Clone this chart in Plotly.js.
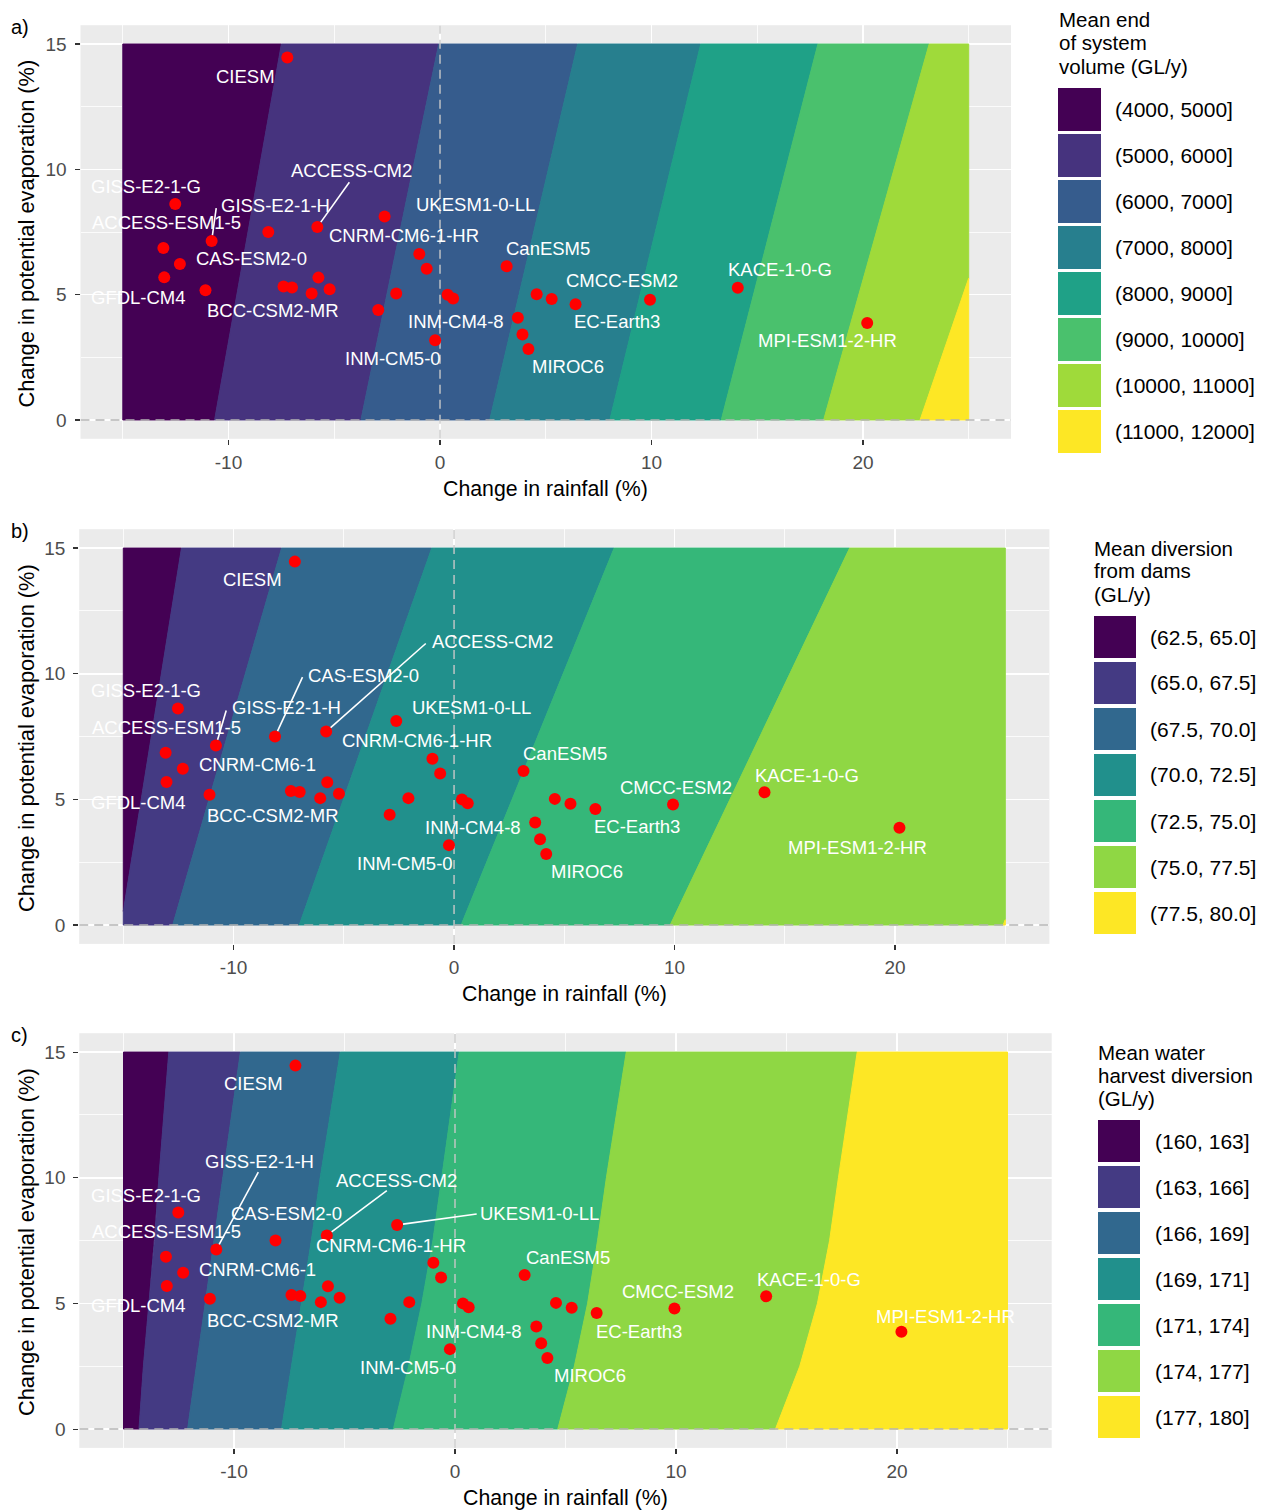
<!DOCTYPE html>
<html><head><meta charset="utf-8">
<script src="https://cdn.plot.ly/plotly-3.0.1.min.js"></script>
<style>body{margin:0;background:#fff}</style>
</head><body>
<div id="chart" style="width:1268px;height:1510px"></div>
<script>
// ---------------- DATA ----------------
const models = ["CIESM","GISS-E2-1-G","GISS-E2-1-H","ACCESS-CM2","CAS-ESM2-0","UKESM1-0-LL",
  "ACCESS-ESM1-5","CNRM-CM6-1","GFDL-CM4","BCC-CSM2-MR","CNRM-CM6-1-HR","INM-CM5-0",
  "CanESM5","EC-Earth3","CMCC-ESM2","KACE-1-0-G","MPI-ESM1-2-HR","INM-CM4-8","MIROC6",
  "","","","","","","","","","","","",""];
const rainfallChange = [-7.22,-12.52,-10.8,-5.8,-8.12,-2.62,
  -13.08,-12.3,-13.04,-11.09,-0.98,-0.23,
  3.15,6.41,9.93,14.08,20.2,3.68,4.18,
  -7.4,-7.0,-5.75,-6.07,-5.22,-2.92,-2.07,-0.63,0.36,0.62,4.57,5.28,3.9];
const evapChange = [14.46,8.62,7.14,7.7,7.5,8.12,
  6.86,6.22,5.69,5.18,6.62,3.18,
  6.13,4.62,4.8,5.28,3.87,4.08,2.83,
  5.33,5.29,5.68,5.05,5.22,4.39,5.05,6.03,5.0,4.85,5.02,4.83,3.41];

// Response-surface band boundaries: x (rainfall %) at given evaporation levels
const levelsA = [0, 15];
const boundsA = [[-10.66,-7.5],[-3.74,-0.06],[2.35,6.51],[8.03,12.33],[13.3,17.87],[18.14,23.13],[22.7,28.8]];
const bandLabelsA = ["(4000, 5000]","(5000, 6000]","(6000, 7000]","(7000, 8000]","(8000, 9000]","(9000, 10000]","(10000, 11000]","(11000, 12000]"];
const legendTitleA = ["Mean end","of system","volume (GL/y)"];

const levelsB = [0, 15];
const boundsB = [[-15.1,-12.36],[-12.76,-7.82],[-7.02,-1.01],[0.32,7.26],[9.8,17.94],[24.9,32.0]];
const bandLabelsB = ["(62.5, 65.0]","(65.0, 67.5]","(67.5, 70.0]","(70.0, 72.5]","(72.5, 75.0]","(75.0, 77.5]","(77.5, 80.0]"];
const legendTitleB = ["Mean diversion","from dams","(GL/y)"];

const levelsC = [0, 2.5, 5, 7.5, 10, 15];
const boundsC = [
  [-14.3,-14.1,-13.85,-13.6,-13.4,-12.95],
  [-12.1,-11.7,-11.3,-10.9,-10.5,-9.71],
  [-7.85,-7.4,-6.95,-6.5,-6.1,-5.19],
  [-2.79,-2.1,-1.5,-1.0,-0.6,0.19],
  [4.65,5.4,6.0,6.45,6.85,7.75],
  [14.5,15.6,16.4,16.95,17.35,18.2]];
const bandLabelsC = ["(160, 163]","(163, 166]","(166, 169]","(169, 171]","(171, 174]","(174, 177]","(177, 180]"];
const legendTitleC = ["Mean water","harvest diversion","(GL/y)"];

const viridis8 = ["#440154","#46337E","#365C8D","#277F8E","#1FA187","#4AC16D","#9FDA3A","#FDE725"];
const viridis7 = ["#440154","#443A83","#31688E","#21908C","#35B779","#8FD744","#FDE725"];

const xTicks = [-10, 0, 10, 20];
const xTickText = ["-10", "0", "10", "20"];
const yTicks = [0, 5, 10, 15];

// ---------------- LAYOUT / STYLE ----------------
const W = 1268, H = 1510;
const FONT = "Liberation Sans, Arial, Helvetica, sans-serif";
const X_DATA = [-15, 25];
const X_RANGE = [-17, 27], Y_RANGE = [-0.75, 15.75];

// label offsets in px from the point: [dx, dy(down +), segStartDx, segStartDy]
const labelPosA = {"CIESM":[-42,19],"GISS-E2-1-G":[-29,-17.5],"ACCESS-ESM1-5":[3,-26],"GFDL-CM4":[-26,20],
 "GISS-E2-1-H":[64,-36,4.6,-33],"ACCESS-CM2":[34,-56,32,-44.7],"CAS-ESM2-0":[-17,26],"UKESM1-0-LL":[91,-12],
 "CNRM-CM6-1-HR":[-15,-18.5],"BCC-CSM2-MR":[68,20],"INM-CM4-8":[-62,4],"INM-CM5-0":[-42,18],
 "CanESM5":[41,-18],"CMCC-ESM2":[-28,-19],"EC-Earth3":[41,17.5],"MIROC6":[40,17.5],
 "KACE-1-0-G":[42,-18],"MPI-ESM1-2-HR":[-40,18]};
const labelPosB = {"CIESM":[-42,18],"GISS-E2-1-G":[-32,-17.5],"ACCESS-ESM1-5":[1,-25.6],"GFDL-CM4":[-28.5,20.6],
 "GISS-E2-1-H":[71,-38.6,10.3,-35.1],"CAS-ESM2-0":[88,-61.5,27.5,-59.5],"ACCESS-CM2":[166,-90,99.6,-88],"UKESM1-0-LL":[75,-13],
 "CNRM-CM6-1-HR":[-15.4,-18],"CNRM-CM6-1":[74.5,-4.7],"BCC-CSM2-MR":[63.5,21],"INM-CM4-8":[-62.5,4.5],
 "INM-CM5-0":[-44,18],"CanESM5":[41.5,-17],"CMCC-ESM2":[3,-17.4],"EC-Earth3":[41.7,18],"MIROC6":[40.8,18],
 "KACE-1-0-G":[42.5,-17.3],"MPI-ESM1-2-HR":[-42.4,19.3]};
const labelPosC = {"CIESM":[-41.6,17.6],"GISS-E2-1-G":[-32.3,-17],"ACCESS-ESM1-5":[0.4,-25.3],"GFDL-CM4":[-28.8,19.7],
 "GISS-E2-1-H":[43.3,-87.7,42,-77.5],"ACCESS-CM2":[69.6,-55.5,60,-44.8],"CAS-ESM2-0":[11,-27],"UKESM1-0-LL":[142,-11.5,79.6,-11],
 "CNRM-CM6-1-HR":[-42.8,-17.2],"CNRM-CM6-1":[74,-3.6],"BCC-CSM2-MR":[63.2,21.3],"INM-CM4-8":[-62,4.6],
 "INM-CM5-0":[-41.8,17.9],"CanESM5":[43,-17.6],"CMCC-ESM2":[3.5,-17.4],"EC-Earth3":[42,18.9],"MIROC6":[42.6,17.5],
 "KACE-1-0-G":[42.7,-17.1],"MPI-ESM1-2-HR":[43.6,-15.7]};

const panels = [
  {xa:"x", ya:"y", levels:levelsA, bounds:boundsA, colors:viridis8, bandLabels:bandLabelsA, title:legendTitleA,
   labels:labelPosA, dom:[80.5,1011,25.2,438.8], tag:"a)", tagY:27,
   leg:{titleX:1057, titleY:[20,43,66], boxX:1058, boxW:43, boxY:88, boxH:43, step:46, labelX:1113}},
  {xa:"x2", ya:"y2", levels:levelsB, bounds:boundsB, colors:viridis7, bandLabels:bandLabelsB, title:legendTitleB,
   labels:labelPosB, dom:[79.2,1049.4,529.2,943.9], tag:"b)", tagY:531,
   leg:{titleX:1092, titleY:[548,571,594], boxX:1094, boxW:42, boxY:616, boxH:42, step:46, labelX:1148}},
  {xa:"x3", ya:"y3", levels:levelsC, bounds:boundsC, colors:viridis7, bandLabels:bandLabelsC, title:legendTitleC,
   labels:labelPosC, dom:[79.3,1051.7,1033.2,1447.9], tag:"c)", tagY:1035,
   leg:{titleX:1096, titleY:[1052,1075,1098], boxX:1098, boxW:42, boxY:1120, boxH:42, step:46, labelX:1153}}
];

// ---------------- helpers ----------------
const px2x = p => p / W;
const py2y = p => 1 - p / H;

function clipHalf(poly, inside, intersect) {
  const out = [];
  for (let i = 0; i < poly.length; i++) {
    const cur = poly[i], prev = poly[(i + poly.length - 1) % poly.length];
    const ci = inside(cur), pi = inside(prev);
    if (ci) { if (!pi) out.push(intersect(prev, cur)); out.push(cur); }
    else if (pi) out.push(intersect(prev, cur));
  }
  return out;
}
function clipX(poly, xmin, xmax) {
  const at = xv => (a, b) => { const t = (xv - a[0]) / (b[0] - a[0]); return [xv, a[1] + t * (b[1] - a[1])]; };
  let p = clipHalf(poly, q => q[0] >= xmin, at(xmin));
  if (p.length) p = clipHalf(p, q => q[0] <= xmax, at(xmax));
  return p;
}

const traces = [], annotations = [], shapes = [];
const layout = {
  width: W, height: H, margin: {l:0, r:0, t:0, b:0}, paper_bgcolor: "#FFFFFF", plot_bgcolor: "#EBEBEB",
  showlegend: false, font: {family: FONT, color: "#000000"}, hovermode: false
};

panels.forEach((P, k) => {
  const sfx = k === 0 ? "" : String(k + 1);
  layout["xaxis" + sfx] = {
    domain: [px2x(P.dom[0]), px2x(P.dom[1])], anchor: P.ya, range: X_RANGE,
    tickmode: "array", tickvals: xTicks, ticktext: xTickText, ticks: "outside", ticklen: 5, tickwidth: 1.1,
    tickcolor: "#333333", tickfont: {size: 19, color: "#4D4D4D", family: FONT}, ticklabelstandoff: 1,
    showgrid: true, gridcolor: "#FFFFFF", gridwidth: 1.6, zeroline: false, showline: false,
    minor: {tickmode: "array", tickvals: [-15, -5, 5, 15, 25], showgrid: true, gridcolor: "#FFFFFF", gridwidth: 0.8, ticks: ""}
  };
  layout["yaxis" + sfx] = {
    domain: [py2y(P.dom[3]), py2y(P.dom[2])], anchor: P.xa, range: Y_RANGE,
    tickmode: "array", tickvals: yTicks, ticks: "outside", ticklen: 5, tickwidth: 1.1,
    tickcolor: "#333333", tickfont: {size: 19, color: "#4D4D4D", family: FONT}, ticklabelstandoff: 4,
    showgrid: true, gridcolor: "#FFFFFF", gridwidth: 1.6, zeroline: false, showline: false,
    minor: {tickmode: "array", tickvals: [2.5, 7.5, 12.5], showgrid: true, gridcolor: "#FFFFFF", gridwidth: 0.8, ticks: ""}
  };

  // filled bands of the response surface
  const nb = P.bounds.length;
  for (let b = 0; b <= nb; b++) {
    const left = b === 0 ? P.levels.map(() => X_DATA[0] - 5) : P.bounds[b - 1];
    const right = b === nb ? P.levels.map(() => X_DATA[1] + 10) : P.bounds[b];
    let poly = P.levels.map((y, i) => [left[i], y]);
    for (let i = P.levels.length - 1; i >= 0; i--) poly.push([right[i], P.levels[i]]);
    poly = clipX(poly, X_DATA[0], X_DATA[1]);
    if (poly.length < 3) continue;
    poly.push(poly[0]);
    traces.push({
      type: "scatter", mode: "lines", xaxis: P.xa, yaxis: P.ya,
      x: poly.map(q => q[0]), y: poly.map(q => q[1]), fill: "toself",
      fillcolor: P.colors[b], line: {color: P.colors[b], width: 1}, hoverinfo: "skip"
    });
  }
  // dashed reference lines at zero
  traces.push({type:"scatter", mode:"lines", xaxis:P.xa, yaxis:P.ya, x:[0,0], y:Y_RANGE,
    line:{color:"#C8C8C8", width:1.4, dash:"9px,6px"}, hoverinfo:"skip"});
  traces.push({type:"scatter", mode:"lines", xaxis:P.xa, yaxis:P.ya, x:X_RANGE, y:[0,0],
    line:{color:"#B4B4B4", width:1.4, dash:"9px,6px"}, hoverinfo:"skip"});
  // model points
  traces.push({type:"scatter", mode:"markers", xaxis:P.xa, yaxis:P.ya, x:rainfallChange, y:evapChange,
    marker:{color:"#FF0000", size:12, line:{width:0}}, text: models, hoverinfo:"skip"});

  // point labels (+ leader segments)
  models.forEach((m, i) => {
    const pos = P.labels[m];
    if (!m || !pos) return;
    annotations.push({xref: P.xa, yref: P.ya, x: rainfallChange[i], y: evapChange[i], text: m,
      font: {size: 18.5, color: "#FFFFFF", family: FONT}, xanchor: "center", yanchor: "middle",
      showarrow: false, xshift: pos[0], yshift: -pos[1]});
    if (pos.length > 2) {
      const sx = pos[2], sy = pos[3], d = Math.hypot(sx, sy), gap = 6;
      shapes.push({type:"line", xref:P.xa, yref:P.ya, xsizemode:"pixel", ysizemode:"pixel",
        xanchor: rainfallChange[i], yanchor: evapChange[i],
        x0: sx, y0: -sy, x1: sx * gap / d, y1: -sy * gap / d,
        line:{color:"#FFFFFF", width:1.6}, layer:"above"});
    }
  });

  // axis titles
  const cx = (P.dom[0] + P.dom[1]) / 2, cy = (P.dom[2] + P.dom[3]) / 2;
  annotations.push({xref:"paper", yref:"paper", x:px2x(cx), y:py2y(P.dom[3] + 50), text:"Change in rainfall (%)",
    showarrow:false, xanchor:"center", yanchor:"middle", font:{size:21.3, color:"#000000", family:FONT}});
  annotations.push({xref:"paper", yref:"paper", x:px2x(26), y:py2y(cy + 1.5), text:"Change in potential evaporation (%)",
    showarrow:false, xanchor:"center", yanchor:"middle", textangle:-90, font:{size:21.8, color:"#000000", family:FONT}});
  // panel tag
  annotations.push({xref:"paper", yref:"paper", x:px2x(9), y:py2y(P.tagY), text:P.tag, showarrow:false,
    xanchor:"left", yanchor:"middle", font:{size:20, color:"#000000", family:FONT}});

  // legend
  const L = P.leg;
  P.title.forEach((t, j) => annotations.push({xref:"paper", yref:"paper", x:px2x(L.titleX), y:py2y(L.titleY[j]),
    text:t, showarrow:false, xanchor:"left", yanchor:"middle", font:{size:20.5, color:"#000000", family:FONT}}));
  P.bandLabels.forEach((t, j) => {
    const y0 = L.boxY + j * L.step;
    shapes.push({type:"rect", xref:"paper", yref:"paper", x0:px2x(L.boxX), x1:px2x(L.boxX + L.boxW),
      y0:py2y(y0), y1:py2y(y0 + L.boxH), fillcolor:P.colors[j], line:{width:0}, layer:"above"});
    annotations.push({xref:"paper", yref:"paper", x:px2x(L.labelX), y:py2y(y0 + L.boxH / 2), text:t,
      showarrow:false, xanchor:"left", yanchor:"middle", font:{size:21, color:"#000000", family:FONT}});
  });
});

layout.annotations = annotations;
layout.shapes = shapes;
Plotly.newPlot("chart", traces, layout, {staticPlot: true, displayModeBar: false});
</script>
</body></html>
